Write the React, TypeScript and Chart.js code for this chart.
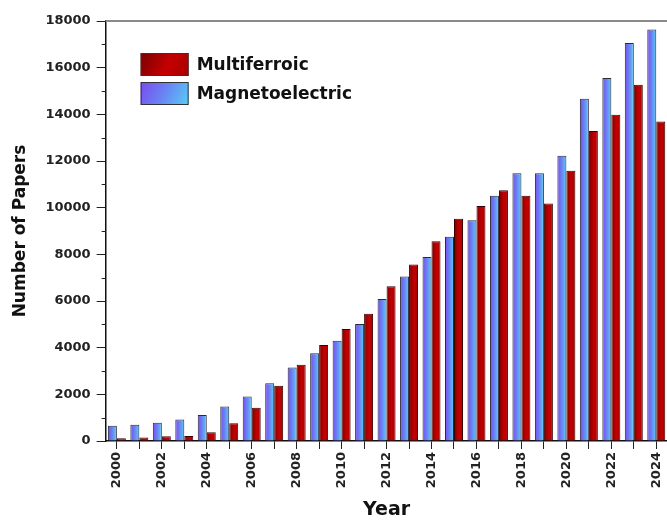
import React, { useEffect, useRef } from "react";
import { Chart, registerables } from "chart.js";

Chart.register(...registerables);

const years = ["2000","2001","2002","2003","2004","2005","2006","2007","2008","2009","2010","2011","2012","2013","2014","2015","2016","2017","2018","2019","2020","2021","2022","2023","2024"];
const magnetoelectric = [650, 700, 780, 920, 1110, 1480, 1910, 2480, 3150, 3760, 4300, 5020, 6090, 7050, 7890, 8750, 9460, 10510, 11470, 11470, 12220, 14670, 15560, 17060, 17640];
const multiferroic = [120, 150, 200, 220, 380, 760, 1430, 2370, 3270, 4110, 4800, 5450, 6630, 7570, 8560, 9530, 10070, 10750, 10510, 10180, 11580, 13290, 13980, 15270, 13690];
const yMax = 18000;
const yStep = 1000;
const yLabelStep = 2000;

const FONT = "'DejaVu Sans', sans-serif";

function barGradient(context: any, side: number, stops: [number, string][]) {
  const chart = context.chart;
  const xs = chart.scales && chart.scales.x;
  if (!xs || context.dataIndex === undefined) return stops[0][1];
  const center = xs.getPixelForValue(context.dataIndex);
  const cat = xs.width / years.length;
  const w = (cat * 0.8) / 2;
  const x0 = side < 0 ? center - w : center;
  const x1 = x0 + w;
  if (!isFinite(x0) || !isFinite(x1)) return stops[0][1];
  const g = chart.ctx.createLinearGradient(x0, 0, x1, 0);
  stops.forEach(([o, c]) => g.addColorStop(o, c));
  return g;
}

const blueStops: [number, string][] = [[0, "#7a4cf0"], [0.45, "#6a7ff3"], [1, "#58cdf6"]];
const redStops: [number, string][] = [[0, "#7a0000"], [0.55, "#c40000"], [1, "#a80000"]];

const decorPlugin = {
  id: "decor",
  afterDraw(chart: any) {
    const { ctx, chartArea } = chart;
    const ys = chart.scales.y;
    ctx.save();
    // top frame line
    ctx.strokeStyle = "#8a8a8a";
    ctx.lineWidth = 2;
    ctx.beginPath();
    ctx.moveTo(chartArea.left, chartArea.top);
    ctx.lineTo(chart.width, chartArea.top);
    ctx.stroke();
    // minor ticks on y
    ctx.strokeStyle = "#222";
    ctx.lineWidth = 1;
    for (let v = yStep; v < yMax; v += yLabelStep) {
      const y = Math.round(ys.getPixelForValue(v)) + 0.5;
      ctx.beginPath();
      ctx.moveTo(chartArea.left - 4, y);
      ctx.lineTo(chartArea.left, y);
      ctx.stroke();
    }
    // legend
    const items = [
      { label: chart.data.datasets[1].label, stops: redStops },
      { label: chart.data.datasets[0].label, stops: blueStops },
    ];
    const bx = chartArea.left + 35;
    let by = chartArea.top + 32;
    const bw = 48;
    const bh = 23;
    items.forEach((it) => {
      const g = ctx.createLinearGradient(bx, by, bx + bw, by + bh);
      it.stops.forEach(([o, c]: [number, string]) => g.addColorStop(o, c));
      ctx.fillStyle = g;
      ctx.fillRect(bx, by, bw, bh);
      ctx.strokeStyle = "#333";
      ctx.lineWidth = 1;
      ctx.strokeRect(bx + 0.5, by + 0.5, bw - 1, bh - 1);
      ctx.fillStyle = "#111";
      ctx.font = "bold 17px " + FONT;
      ctx.textBaseline = "middle";
      ctx.textAlign = "left";
      ctx.fillText(it.label, bx + bw + 8, by + bh / 2 + 1);
      by += 29;
    });
    ctx.restore();
  },
};

export default function App() {
  const ref = useRef<HTMLCanvasElement | null>(null);
  useEffect(() => {
    if (!ref.current) return;
    const chart = new Chart(ref.current, {
      type: "bar",
      data: {
        labels: years,
        datasets: [
          {
            label: "Magnetoelectric",
            data: magnetoelectric,
            backgroundColor: (c: any) => barGradient(c, -1, blueStops),
            borderColor: "#2a2a3a",
            borderWidth: 1,
            categoryPercentage: 0.8,
            barPercentage: 1.0,
          },
          {
            label: "Multiferroic",
            data: multiferroic,
            backgroundColor: (c: any) => barGradient(c, 1, redStops),
            borderColor: "#3a0000",
            borderWidth: 1,
            categoryPercentage: 0.8,
            barPercentage: 1.0,
          },
        ],
      },
      options: {
        responsive: false,
        animation: false,
        layout: { padding: { left: 0, top: 21, right: 6, bottom: 0 } },
        plugins: {
          legend: { display: false },
          tooltip: { enabled: false },
        },
        scales: {
          x: {
            offset: true,
            grid: {
              offset: false,
              drawOnChartArea: false,
              drawTicks: true,
              tickLength: 8,
              tickColor: "#222",
            },
            border: { display: true, color: "#111", width: 1.5 },
            ticks: {
              autoSkip: false,
              minRotation: 90,
              maxRotation: 90,
              padding: 3,
              color: "#222",
              font: { family: FONT, size: 13, weight: "bold" },
              callback: (v: any, i: number) => (i % 2 === 0 ? years[i] : ""),
            },
            title: {
              display: true,
              text: "Year",
              color: "#111",
              font: { family: FONT, size: 19, weight: "bold" },
              padding: { top: 7, bottom: 0 },
            },
          },
          y: {
            min: 0,
            max: yMax,
            grid: {
              drawOnChartArea: false,
              drawTicks: true,
              tickLength: 9,
              tickColor: (c: any) => (c.tick && c.tick.value % yLabelStep === 0 ? "#222" : "rgba(0,0,0,0)"),
            },
            border: { display: true, color: "#111", width: 1.5 },
            ticks: {
              stepSize: yStep,
              padding: 6,
              color: "#222",
              font: { family: FONT, size: 13, weight: "bold" },
              callback: (v: any) => (Number(v) % yLabelStep === 0 ? String(v) : ""),
            },
            title: {
              display: true,
              text: "Number of Papers",
              color: "#111",
              font: { family: FONT, size: 17, weight: "bold" },
              padding: { top: 10, bottom: 9 },
            },
          },
        },
      },
      plugins: [decorPlugin],
    });
    return () => chart.destroy();
  }, []);
  return (
    <div style={{ position: "fixed", left: 0, top: 0, width: 667, height: 521, overflow: "hidden", background: "#fff" }}>
      <canvas ref={ref} width={675} height={521} style={{ display: "block" }} />
    </div>
  );
}
